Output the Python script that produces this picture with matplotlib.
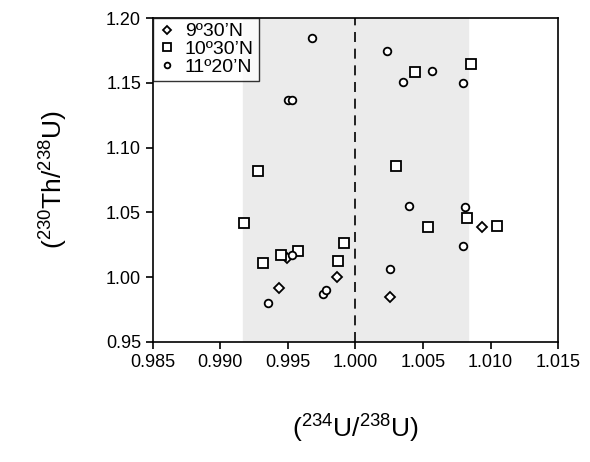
import matplotlib
matplotlib.use("Agg")
import matplotlib.pyplot as plt

plt.rcParams['font.family'] = ['Liberation Sans', 'DejaVu Sans']
plt.rcParams['mathtext.fontset'] = 'custom'
plt.rcParams['mathtext.rm'] = 'Liberation Sans'
plt.rcParams['mathtext.it'] = 'Liberation Sans:italic'

# 9°30'N
x_930 = [0.9949, 0.99436, 0.99863, 1.00258, 1.00935]
y_930 = [1.015, 0.9914, 1.0004, 0.985, 1.039]
# 10°30'N
x_1030 = [1.00443, 1.00856, 0.9928, 0.99174, 0.99317, 0.99446, 0.99572, 0.99873, 0.99915,
          1.00298, 1.00535, 1.00826, 1.01046]
y_1030 = [1.1586, 1.1645, 1.082, 1.0416, 1.0107, 1.0169, 1.0202, 1.0127, 1.0262,
          1.086, 1.039, 1.0457, 1.0395]
# 11°20'N
x_1120 = [0.99676, 0.99498, 0.99527, 1.00231, 1.00564, 1.00354, 1.00799, 0.99527, 0.99354,
          0.99757, 0.9978, 1.00399, 1.00811, 1.00796, 1.00258]
y_1120 = [1.1843, 1.1367, 1.1367, 1.1748, 1.1591, 1.1504, 1.1501, 1.0169, 0.9803,
          0.9868, 0.9899, 1.0552, 1.0544, 1.0238, 1.0063]

fig = plt.figure(figsize=(5.9, 4.62), dpi=100)
ax = fig.add_axes([0.259, 0.260, 0.687, 0.701])

ax.axvspan(0.99167, 1.0083, color='#ebebeb', zorder=0)
ax.axvline(1.0, color='black', linestyle=(0, (6, 4)), linewidth=1.2, zorder=1)

ax.plot(x_930, y_930, 'D', mfc='white', mec='black', mew=1.3, ms=5, ls='none', label="9º30’N")
ax.plot(x_1030, y_1030, 's', mfc='white', mec='black', mew=1.3, ms=7, ls='none', label="10º30’N")
ax.plot(x_1120, y_1120, 'o', mfc='white', mec='black', mew=1.3, ms=5.5, ls='none', label="11º20’N")

ax.set_xlim(0.985, 1.015)
ax.set_ylim(0.95, 1.20)
ax.set_xticks([0.985, 0.990, 0.995, 1.000, 1.005, 1.010, 1.015])
ax.set_yticks([0.95, 1.00, 1.05, 1.10, 1.15, 1.20])
ax.xaxis.set_major_formatter(matplotlib.ticker.FormatStrFormatter('%.3f'))
ax.yaxis.set_major_formatter(matplotlib.ticker.FormatStrFormatter('%.2f'))
ax.tick_params(labelsize=13, direction='out', length=5, width=1.2)
for s in ax.spines.values():
    s.set_linewidth(1.2)

ax.set_xlabel('($^{234}$U/$^{238}$U)', fontsize=19, labelpad=30)
ax.set_ylabel('($^{230}$Th/$^{238}$U)', fontsize=19, labelpad=26)

leg = ax.legend(loc='upper left', fontsize=14, frameon=True, fancybox=False,
                edgecolor='black', borderaxespad=0, handletextpad=0.4,
                borderpad=0.25, labelspacing=0.0, handlelength=1.0, markerscale=0.75)
leg.get_frame().set_linewidth(1.0)

fig.savefig('out.png', dpi=100)
